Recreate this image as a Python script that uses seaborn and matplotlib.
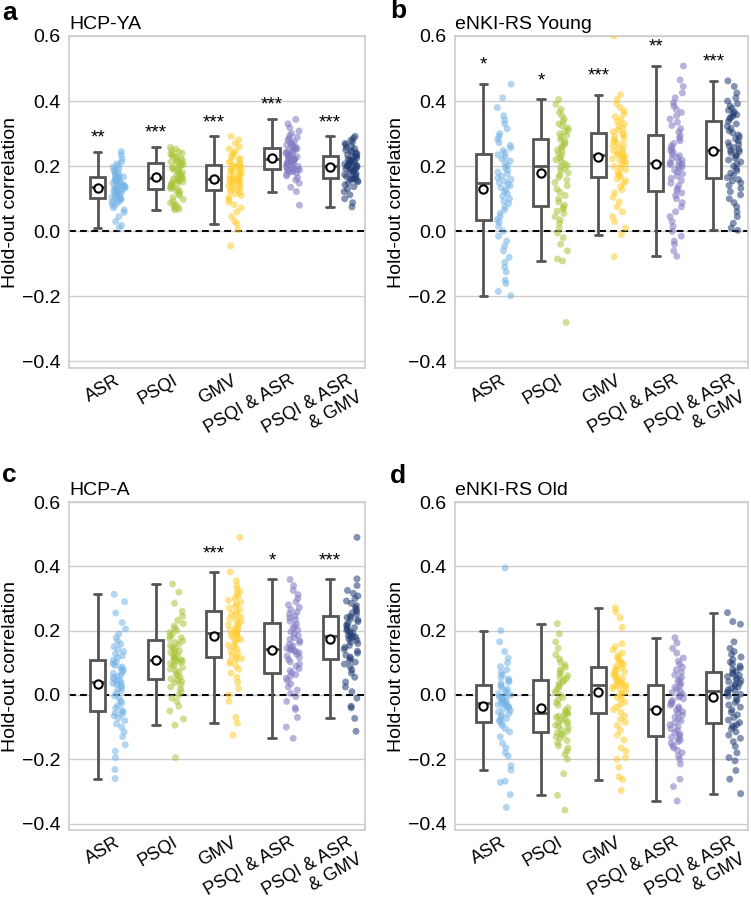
import numpy as np
import pandas as pd
import matplotlib
matplotlib.use("Agg")
import matplotlib.pyplot as plt
import seaborn as sns

# ---------------- data ----------------
categories = ["ASR", "PSQI", "GMV", "PSQI & ASR", "PSQI & ASR\n& GMV"]
group_colors = ["#74B3E6", "#A8C63A", "#FFCD2E", "#7F78C2", "#1E3A72"]
panel_titles = ["HCP-YA", "eNKI-RS Young", "HCP-A", "eNKI-RS Old"]
panel_letters = ["a", "b", "c", "d"]

# a: HCP-YA
hcpya_asr = [0.010, 0.018, 0.030, 0.045, 0.058, 0.066, 0.072, 0.078, 0.083, 0.088, 0.091, 0.094, 0.096, 0.099, 0.100,
             0.102, 0.105, 0.108, 0.110, 0.113, 0.116, 0.118, 0.121, 0.123, 0.126, 0.128, 0.130, 0.132, 0.133, 0.134,
             0.136, 0.138, 0.140, 0.142, 0.145, 0.147, 0.150, 0.152, 0.154, 0.156, 0.158, 0.160, 0.162, 0.164, 0.165,
             0.167, 0.170, 0.173, 0.176, 0.180, 0.184, 0.188, 0.192, 0.197, 0.202, 0.207, 0.213, 0.222, 0.235, 0.245]
hcpya_psqi = [0.066, 0.068, 0.071, 0.074, 0.078, 0.082, 0.087, 0.092, 0.098, 0.104, 0.110, 0.116, 0.121, 0.125, 0.129,
              0.131, 0.134, 0.137, 0.139, 0.142, 0.145, 0.147, 0.150, 0.152, 0.155, 0.157, 0.159, 0.161, 0.163, 0.164,
              0.166, 0.169, 0.172, 0.175, 0.178, 0.181, 0.184, 0.187, 0.190, 0.193, 0.196, 0.199, 0.202, 0.205, 0.208,
              0.211, 0.213, 0.216, 0.219, 0.222, 0.225, 0.228, 0.231, 0.234, 0.237, 0.240, 0.244, 0.248, 0.253, 0.258]
hcpya_gmv = [-0.045, 0.005, 0.023, 0.030, 0.045, 0.060, 0.072, 0.082, 0.090, 0.098, 0.105, 0.110, 0.115, 0.119, 0.123,
             0.127, 0.130, 0.133, 0.136, 0.139, 0.142, 0.145, 0.147, 0.150, 0.152, 0.154, 0.156, 0.158, 0.159, 0.160,
             0.162, 0.165, 0.168, 0.171, 0.174, 0.177, 0.180, 0.183, 0.186, 0.189, 0.192, 0.195, 0.198, 0.200, 0.202,
             0.205, 0.208, 0.212, 0.216, 0.220, 0.224, 0.229, 0.234, 0.240, 0.246, 0.253, 0.260, 0.270, 0.281, 0.292]
hcpya_psqi_asr = [0.080, 0.122, 0.135, 0.148, 0.158, 0.165, 0.170, 0.175, 0.179, 0.182, 0.184, 0.186, 0.188, 0.189, 0.190,
                  0.192, 0.194, 0.197, 0.199, 0.202, 0.204, 0.207, 0.209, 0.211, 0.213, 0.215, 0.217, 0.219, 0.220, 0.221,
                  0.223, 0.225, 0.227, 0.229, 0.231, 0.233, 0.235, 0.237, 0.240, 0.242, 0.245, 0.248, 0.251, 0.254, 0.256,
                  0.259, 0.262, 0.265, 0.268, 0.272, 0.276, 0.280, 0.284, 0.289, 0.294, 0.300, 0.308, 0.318, 0.330, 0.344]
hcpya_all = [0.075, 0.088, 0.100, 0.112, 0.122, 0.130, 0.137, 0.143, 0.148, 0.152, 0.155, 0.158, 0.160, 0.162, 0.163,
             0.165, 0.168, 0.171, 0.174, 0.177, 0.180, 0.183, 0.186, 0.188, 0.190, 0.192, 0.194, 0.196, 0.198, 0.199,
             0.201, 0.203, 0.205, 0.207, 0.209, 0.211, 0.213, 0.215, 0.217, 0.219, 0.222, 0.225, 0.227, 0.229, 0.231,
             0.235, 0.238, 0.241, 0.244, 0.247, 0.250, 0.254, 0.258, 0.262, 0.266, 0.270, 0.275, 0.280, 0.286, 0.292]

# b: eNKI-RS Young
young_asr = [-0.198, -0.185, -0.160, -0.150, -0.125, -0.110, -0.095, -0.080, -0.060, -0.045, -0.030, -0.015, 0.000, 0.015, 0.028,
             0.036, 0.045, 0.055, 0.065, 0.075, 0.085, 0.092, 0.100, 0.108, 0.115, 0.122, 0.128, 0.134, 0.140, 0.145,
             0.149, 0.154, 0.159, 0.164, 0.170, 0.176, 0.182, 0.188, 0.195, 0.202, 0.209, 0.216, 0.223, 0.229, 0.235,
             0.241, 0.248, 0.256, 0.264, 0.272, 0.282, 0.292, 0.300, 0.315, 0.330, 0.342, 0.355, 0.380, 0.410, 0.452]
young_psqi = [-0.280, -0.091, -0.085, -0.060, -0.040, -0.020, -0.005, 0.010, 0.025, 0.035, 0.045, 0.055, 0.062, 0.068, 0.073,
              0.080, 0.090, 0.100, 0.110, 0.120, 0.130, 0.140, 0.150, 0.158, 0.166, 0.173, 0.180, 0.187, 0.193, 0.198,
              0.202, 0.208, 0.214, 0.220, 0.226, 0.232, 0.238, 0.244, 0.250, 0.256, 0.261, 0.266, 0.271, 0.276, 0.282,
              0.290, 0.295, 0.300, 0.306, 0.312, 0.318, 0.324, 0.330, 0.337, 0.345, 0.355, 0.365, 0.375, 0.390, 0.405]
young_gmv = [-0.078, -0.010, 0.010, 0.030, 0.045, 0.060, 0.075, 0.090, 0.105, 0.118, 0.128, 0.138, 0.147, 0.155, 0.161,
             0.167, 0.172, 0.177, 0.183, 0.189, 0.195, 0.200, 0.205, 0.210, 0.215, 0.219, 0.223, 0.227, 0.230, 0.232,
             0.235, 0.239, 0.243, 0.247, 0.251, 0.256, 0.261, 0.266, 0.271, 0.276, 0.281, 0.286, 0.291, 0.296, 0.300,
             0.306, 0.311, 0.317, 0.323, 0.330, 0.337, 0.344, 0.352, 0.360, 0.370, 0.380, 0.392, 0.405, 0.420, 0.600]
young_psqi_asr = [-0.077, -0.060, -0.040, -0.030, -0.015, 0.000, 0.015, 0.030, 0.045, 0.060, 0.075, 0.088, 0.100, 0.110, 0.118,
                  0.125, 0.132, 0.140, 0.148, 0.156, 0.163, 0.170, 0.176, 0.182, 0.188, 0.193, 0.198, 0.202, 0.205, 0.207,
                  0.210, 0.214, 0.218, 0.222, 0.227, 0.232, 0.237, 0.243, 0.249, 0.255, 0.262, 0.270, 0.278, 0.286, 0.294,
                  0.305, 0.315, 0.325, 0.335, 0.345, 0.355, 0.365, 0.375, 0.385, 0.395, 0.410, 0.425, 0.445, 0.465, 0.508]
young_all = [0.003, 0.010, 0.025, 0.045, 0.060, 0.075, 0.088, 0.100, 0.112, 0.122, 0.132, 0.141, 0.149, 0.155, 0.159,
             0.165, 0.172, 0.179, 0.186, 0.193, 0.200, 0.207, 0.213, 0.219, 0.225, 0.231, 0.236, 0.241, 0.245, 0.248,
             0.252, 0.257, 0.262, 0.267, 0.272, 0.278, 0.284, 0.290, 0.296, 0.302, 0.309, 0.316, 0.323, 0.330, 0.338,
             0.346, 0.350, 0.354, 0.358, 0.362, 0.367, 0.372, 0.378, 0.385, 0.392, 0.400, 0.410, 0.425, 0.445, 0.462]

# c: HCP-A
hcpa_asr = [-0.260, -0.232, -0.195, -0.175, -0.155, -0.130, -0.115, -0.100, -0.090, -0.080, -0.072, -0.065, -0.060, -0.056, -0.053,
            -0.048, -0.040, -0.032, -0.025, -0.018, -0.010, -0.003, 0.005, 0.012, 0.018, 0.024, 0.029, 0.033, 0.036, 0.039,
            0.042, 0.046, 0.050, 0.054, 0.058, 0.062, 0.067, 0.072, 0.077, 0.082, 0.087, 0.092, 0.097, 0.102, 0.108,
            0.116, 0.122, 0.128, 0.135, 0.142, 0.150, 0.158, 0.167, 0.178, 0.190, 0.205, 0.225, 0.255, 0.290, 0.313]
hcpa_psqi = [-0.195, -0.094, -0.075, -0.050, -0.035, -0.020, -0.010, 0.000, 0.010, 0.018, 0.025, 0.032, 0.038, 0.042, 0.046,
             0.050, 0.055, 0.060, 0.065, 0.070, 0.075, 0.080, 0.085, 0.090, 0.094, 0.098, 0.102, 0.105, 0.107, 0.109,
             0.111, 0.114, 0.117, 0.120, 0.124, 0.128, 0.132, 0.136, 0.140, 0.144, 0.148, 0.153, 0.158, 0.163, 0.168,
             0.174, 0.178, 0.183, 0.188, 0.194, 0.200, 0.207, 0.214, 0.222, 0.232, 0.245, 0.260, 0.285, 0.320, 0.345]
hcpa_gmv = [-0.125, -0.088, -0.070, -0.020, 0.000, 0.020, 0.040, 0.055, 0.068, 0.080, 0.090, 0.098, 0.105, 0.110, 0.113,
            0.118, 0.124, 0.130, 0.137, 0.143, 0.149, 0.155, 0.161, 0.167, 0.172, 0.177, 0.181, 0.185, 0.188, 0.190,
            0.193, 0.197, 0.201, 0.205, 0.209, 0.213, 0.218, 0.223, 0.228, 0.233, 0.238, 0.243, 0.248, 0.253, 0.258,
            0.265, 0.270, 0.276, 0.282, 0.288, 0.294, 0.300, 0.307, 0.314, 0.322, 0.330, 0.340, 0.355, 0.382, 0.490]
hcpa_psqi_asr = [-0.135, -0.100, -0.070, -0.045, -0.040, -0.020, -0.005, 0.005, 0.015, 0.025, 0.035, 0.045, 0.052, 0.058, 0.063,
                 0.069, 0.075, 0.082, 0.089, 0.096, 0.103, 0.110, 0.116, 0.121, 0.126, 0.131, 0.135, 0.138, 0.140, 0.142,
                 0.145, 0.149, 0.153, 0.158, 0.163, 0.168, 0.173, 0.178, 0.184, 0.190, 0.196, 0.202, 0.208, 0.214, 0.220,
                 0.229, 0.234, 0.240, 0.246, 0.252, 0.258, 0.265, 0.272, 0.280, 0.289, 0.300, 0.312, 0.325, 0.340, 0.359]
hcpa_all = [-0.113, -0.073, -0.040, -0.035, -0.010, 0.010, 0.025, 0.040, 0.055, 0.068, 0.078, 0.088, 0.096, 0.102, 0.107,
            0.113, 0.118, 0.124, 0.130, 0.136, 0.142, 0.148, 0.154, 0.160, 0.165, 0.170, 0.174, 0.177, 0.180, 0.182,
            0.185, 0.189, 0.193, 0.197, 0.201, 0.205, 0.209, 0.213, 0.218, 0.223, 0.228, 0.233, 0.237, 0.241, 0.244,
            0.250, 0.255, 0.260, 0.266, 0.272, 0.278, 0.285, 0.292, 0.300, 0.308, 0.316, 0.325, 0.340, 0.361, 0.490]

# d: eNKI-RS Old
old_asr = [-0.350, -0.310, -0.272, -0.268, -0.234, -0.220, -0.190, -0.180, -0.165, -0.150, -0.130, -0.115, -0.105, -0.095, -0.088,
           -0.082, -0.078, -0.073, -0.068, -0.063, -0.058, -0.053, -0.048, -0.044, -0.040, -0.036, -0.033, -0.030, -0.028, -0.026,
           -0.024, -0.021, -0.018, -0.015, -0.012, -0.009, -0.006, -0.003, 0.000, 0.004, 0.008, 0.013, 0.018, 0.023, 0.029,
           0.036, 0.040, 0.045, 0.050, 0.055, 0.062, 0.070, 0.078, 0.088, 0.100, 0.115, 0.135, 0.165, 0.200, 0.395]
old_psqi = [-0.358, -0.312, -0.245, -0.200, -0.185, -0.175, -0.165, -0.158, -0.150, -0.142, -0.135, -0.130, -0.125, -0.121, -0.118,
            -0.113, -0.108, -0.103, -0.098, -0.094, -0.090, -0.086, -0.082, -0.078, -0.074, -0.070, -0.066, -0.062, -0.059, -0.056,
            -0.054, -0.048, -0.040, -0.032, -0.024, -0.016, -0.008, 0.000, 0.008, 0.015, 0.022, 0.029, 0.035, 0.040, 0.045,
            0.051, 0.055, 0.060, 0.066, 0.072, 0.079, 0.086, 0.094, 0.102, 0.112, 0.125, 0.145, 0.165, 0.190, 0.222]
old_gmv = [-0.297, -0.263, -0.255, -0.225, -0.200, -0.195, -0.175, -0.165, -0.140, -0.125, -0.110, -0.095, -0.085, -0.075, -0.066,
           -0.054, -0.046, -0.038, -0.030, -0.022, -0.015, -0.008, -0.002, 0.004, 0.010, 0.015, 0.020, 0.024, 0.027, 0.029,
           0.031, 0.034, 0.037, 0.040, 0.044, 0.048, 0.052, 0.056, 0.060, 0.064, 0.068, 0.072, 0.076, 0.080, 0.084,
           0.090, 0.094, 0.099, 0.104, 0.110, 0.116, 0.123, 0.130, 0.140, 0.150, 0.160, 0.210, 0.240, 0.258, 0.271]
old_psqi_asr = [-0.330, -0.285, -0.262, -0.215, -0.200, -0.190, -0.180, -0.172, -0.165, -0.158, -0.150, -0.145, -0.140, -0.136, -0.132,
                -0.127, -0.122, -0.117, -0.111, -0.105, -0.099, -0.093, -0.087, -0.081, -0.075, -0.069, -0.063, -0.057, -0.052, -0.048,
                -0.042, -0.037, -0.032, -0.027, -0.022, -0.017, -0.012, -0.007, -0.002, 0.003, 0.008, 0.013, 0.018, 0.024, 0.030,
                0.036, 0.042, 0.048, 0.055, 0.062, 0.070, 0.078, 0.086, 0.095, 0.105, 0.115, 0.130, 0.145, 0.162, 0.178]
old_all = [-0.307, -0.262, -0.235, -0.205, -0.195, -0.180, -0.160, -0.145, -0.135, -0.125, -0.115, -0.106, -0.100, -0.096, -0.092,
           -0.086, -0.078, -0.070, -0.062, -0.054, -0.046, -0.038, -0.031, -0.024, -0.017, -0.010, -0.004, 0.002, 0.006, 0.009,
           0.013, 0.017, 0.021, 0.025, 0.029, 0.033, 0.037, 0.041, 0.045, 0.049, 0.053, 0.057, 0.061, 0.065, 0.069,
           0.074, 0.079, 0.084, 0.090, 0.096, 0.102, 0.110, 0.118, 0.126, 0.135, 0.145, 0.165, 0.220, 0.228, 0.256]

# significance stars and their heights
stars_a = ["**", "***", "***", "***", "***"]
stars_a_y = [0.304, 0.318, 0.350, 0.404, 0.350]
stars_b = ["*", "*", "***", "**", "***"]
stars_b_y = [0.527, 0.478, 0.493, 0.582, 0.536]
stars_c = ["", "", "***", "*", "***"]
stars_c_y = [0.0, 0.0, 0.453, 0.432, 0.432]
stars_d = ["", "", "", "", ""]
stars_d_y = [0.0, 0.0, 0.0, 0.0, 0.0]

panel_data = [
    [hcpya_asr, hcpya_psqi, hcpya_gmv, hcpya_psqi_asr, hcpya_all],
    [young_asr, young_psqi, young_gmv, young_psqi_asr, young_all],
    [hcpa_asr, hcpa_psqi, hcpa_gmv, hcpa_psqi_asr, hcpa_all],
    [old_asr, old_psqi, old_gmv, old_psqi_asr, old_all],
]
panel_stars = [(stars_a, stars_a_y), (stars_b, stars_b_y), (stars_c, stars_c_y), (stars_d, stars_d_y)]

# ---------------- style ----------------
sns.set_theme(style="whitegrid")
plt.rcParams["font.family"] = ["Liberation Sans", "DejaVu Sans"]
for key in ["text.color", "axes.labelcolor", "xtick.color", "ytick.color"]:
    plt.rcParams[key] = "black"
np.random.seed(3)

FS = 14
XFS = 13
XPAD = 3
BOX_OFF = -0.29
STRIP_OFF = 0.07
palette = dict(zip(categories, group_colors))

fig = plt.figure(figsize=(7.51, 9.05), dpi=100)
W, H = 751.0, 905.0
axes_px = [(69, 36, 365, 368), (455, 36, 748, 368), (69, 502, 365, 830), (455, 502, 748, 830)]
letter_px = [(2, 20), (390, 18), (2, 482), (390, 483)]

for k in range(4):
    l, t, r, b = axes_px[k]
    ax = fig.add_axes([l / W, 1 - b / H, (r - l) / W, (b - t) / H])
    rows = []
    for i, (cat, vals) in enumerate(zip(categories, panel_data[k])):
        for v in vals:
            rows.append((cat, i + BOX_OFF, i + STRIP_OFF, v))
    df = pd.DataFrame(rows, columns=["group", "xbox", "xstrip", "value"])

    sns.boxplot(data=df, x="xbox", y="value", orient="x", native_scale=True, width=0.26,
                color="white", linecolor="#555555", linewidth=2.0, showfliers=False,
                showmeans=True,
                meanprops=dict(marker="o", markerfacecolor="white", markeredgecolor="black",
                               markersize=6, markeredgewidth=1.5),
                ax=ax)
    sns.stripplot(data=df, x="xstrip", y="value", hue="group", hue_order=categories,
                  palette=palette, orient="x", native_scale=True, jitter=0.12, size=5.0,
                  alpha=0.55, linewidth=0, legend=False, ax=ax)

    ax.axhline(0, color="black", ls=(0, (3.5, 2.2)), lw=1.4, zorder=1.5)

    labels, ys = panel_stars[k]
    for i, (s, y) in enumerate(zip(labels, ys)):
        if s:
            ax.text(i + BOX_OFF, y - 0.03, s, ha="center", va="baseline", fontsize=13.5, color="black")

    ax.set_xlim(-0.784, 4.31)
    ax.set_ylim(-0.42, 0.6)
    ax.set_yticks([-0.4, -0.2, 0.0, 0.2, 0.4, 0.6])
    ax.set_yticklabels(["\u22120.4", "\u22120.2", "0.0", "0.2", "0.4", "0.6"], fontsize=FS)

    # x tick labels: first line of each category as tick label, extra lines as rotated text below
    first_lines = [c.split("\n")[0] for c in categories]
    ax.set_xticks(range(len(categories)))
    ax.set_xticklabels(first_lines, rotation=30, ha="right", rotation_mode="anchor", fontsize=XFS)
    ax.tick_params(axis="x", length=0, pad=XPAD)
    line_step = 14.0  # points between stacked lines
    ang = np.deg2rad(30)
    for i, c in enumerate(categories):
        for j, extra in enumerate(c.split("\n")[1:], start=1):
            ax.annotate(extra, xy=(i, 0), xycoords=("data", "axes fraction"),
                        xytext=(j * line_step * np.sin(ang), -XPAD - j * line_step * np.cos(ang)),
                        textcoords="offset points", rotation=30, rotation_mode="anchor",
                        ha="right", va="top", fontsize=XFS, annotation_clip=False)

    ax.tick_params(axis="y", length=0, pad=6)
    ax.grid(axis="x", visible=False)
    ax.grid(axis="y", color="#CCCCCC", lw=1.0)
    for sp in ax.spines.values():
        sp.set_color("#CCCCCC")
        sp.set_linewidth(1.2)
    ax.set_xlabel("")
    ax.set_ylabel("Hold-out correlation", fontsize=FS, labelpad=2)
    ax.set_title(panel_titles[k], loc="left", fontsize=14, pad=5)

    lx, ly = letter_px[k]
    fig.text(lx / W, 1 - ly / H, panel_letters[k], fontsize=19, fontweight="bold",
             ha="left", va="baseline")

fig.savefig("out.png", dpi=100)
